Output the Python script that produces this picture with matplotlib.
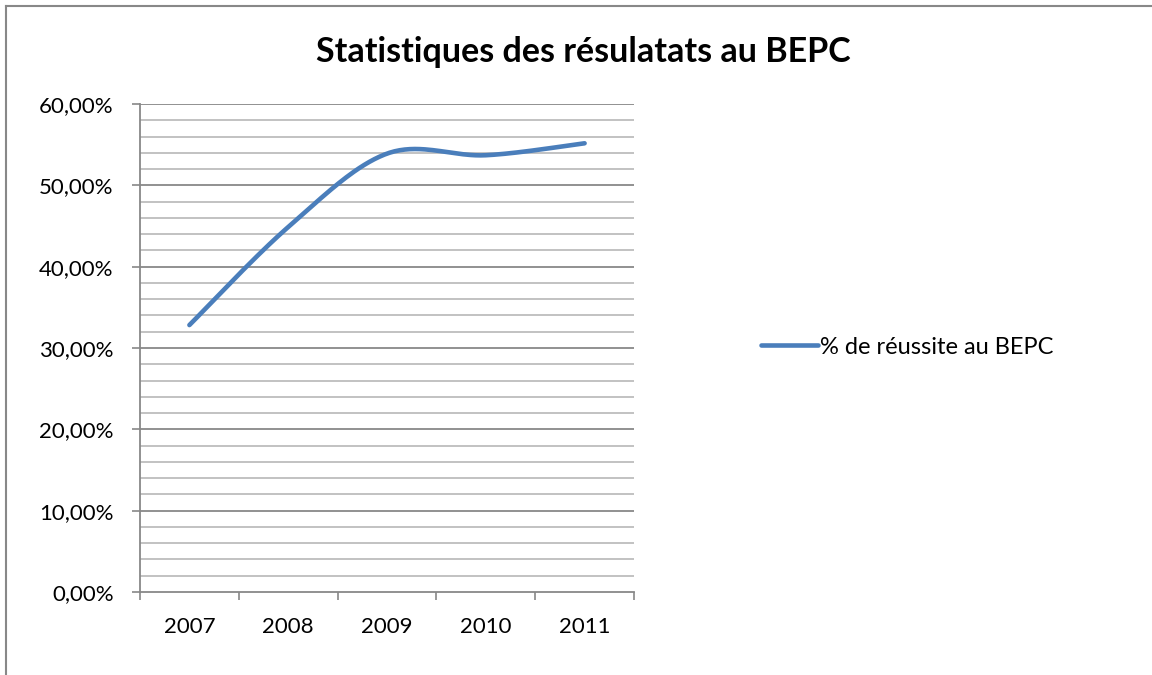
import numpy as np
import matplotlib
matplotlib.use("Agg")
from matplotlib import pyplot as plt
from matplotlib.lines import Line2D

# data
years = ["2007", "2008", "2009", "2010", "2011"]
reussite = [32.82, 44.87, 53.9, 53.7, 55.17]  # % de réussite au BEPC
y_ticks = [0, 10, 20, 30, 40, 50, 60]
y_labels = ["0,00%", "10,00%", "20,00%", "30,00%", "40,00%", "50,00%", "60,00%"]

title = "Statistiques des résulatats au BEPC"
series_name = "% de réussite au BEPC"
line_color = "#4a7ebb"

plt.rcParams['font.family'] = ['Lato', 'DejaVu Sans']


def smooth(xs, ys, n=40):
    # excel-like smoothed line: cubic bezier with catmull-rom control points
    xs = np.asarray(xs, float)
    ys = np.asarray(ys, float)
    px = np.concatenate([[xs[0]], xs, [xs[-1]]])
    py = np.concatenate([[ys[0]], ys, [ys[-1]]])
    out_x, out_y = [], []
    t = np.linspace(0, 1, n)
    for i in range(1, len(px) - 2):
        p0 = np.array([px[i], py[i]])
        p3 = np.array([px[i + 1], py[i + 1]])
        c1 = p0 + (np.array([px[i + 1], py[i + 1]]) - np.array([px[i - 1], py[i - 1]])) / 6
        c2 = p3 - (np.array([px[i + 2], py[i + 2]]) - np.array([px[i], py[i]])) / 6
        b = ((1 - t) ** 3)[:, None] * p0 + (3 * (1 - t) ** 2 * t)[:, None] * c1 \
            + (3 * (1 - t) * t ** 2)[:, None] * c2 + (t ** 3)[:, None] * p3
        out_x.extend(b[:, 0])
        out_y.extend(b[:, 1])
    return out_x, out_y


fig = plt.figure(figsize=(11.52, 6.75), dpi=100)
ax = fig.add_axes([140 / 1152, 1 - 592 / 675, 494 / 1152, 488 / 675])

x = np.arange(len(years))
sx, sy = smooth(x, reussite)
ax.plot(sx, sy, color=line_color, lw=3.3, solid_capstyle="round", zorder=3)

ax.set_xlim(-0.5, len(years) - 0.5)
ax.set_ylim(0, 60)

# gridlines: minor every 2 %, major every 10 %
for v in np.arange(2, 60, 2):
    if v % 10 == 0:
        continue
    ax.axhline(v, color="#bdbdbd", lw=1.3, zorder=1)
for v in y_ticks[1:]:
    ax.axhline(v, color="#888888", lw=1.3, zorder=1)

ax.set_yticks(y_ticks)
ax.set_yticklabels(y_labels)
ax.set_xticks(x)
ax.set_xticklabels(years)
ax.set_xticks(np.arange(-0.5, len(years), 1), minor=True)

ax.tick_params(axis="y", length=6, width=1.2, color="#888888", direction="out",
               labelsize=16, pad=13)
ax.tick_params(axis="x", which="major", length=0, labelsize=16, pad=18)
ax.tick_params(axis="x", which="minor", length=6, width=1.2, color="#888888", direction="out")

for s in ["top", "right"]:
    ax.spines[s].set_visible(False)
for s in ["left", "bottom"]:
    ax.spines[s].set_color("#888888")
    ax.spines[s].set_linewidth(1.3)

fig.text(583 / 1152, 1 - 52 / 675, title, ha="center", va="center",
         fontsize=24.5, fontweight="bold")

handle = Line2D([], [], color=line_color, lw=3.3, solid_capstyle="round")
fig.legend([handle], [series_name], loc="center left",
           bbox_to_anchor=(740 / 1152, 1 - 347 / 675), frameon=False,
           fontsize=17, handlelength=2.4, handletextpad=0.1)

# outer chart border (only top and left edges are visible)
fig.add_artist(Line2D([6 / 1152, 6 / 1152], [0, 1 - 5.5 / 675], color="#888888", lw=1.5))
fig.add_artist(Line2D([6 / 1152, 1], [1 - 5.5 / 675, 1 - 5.5 / 675], color="#888888", lw=1.5))

fig.savefig("out.png", dpi=100)
